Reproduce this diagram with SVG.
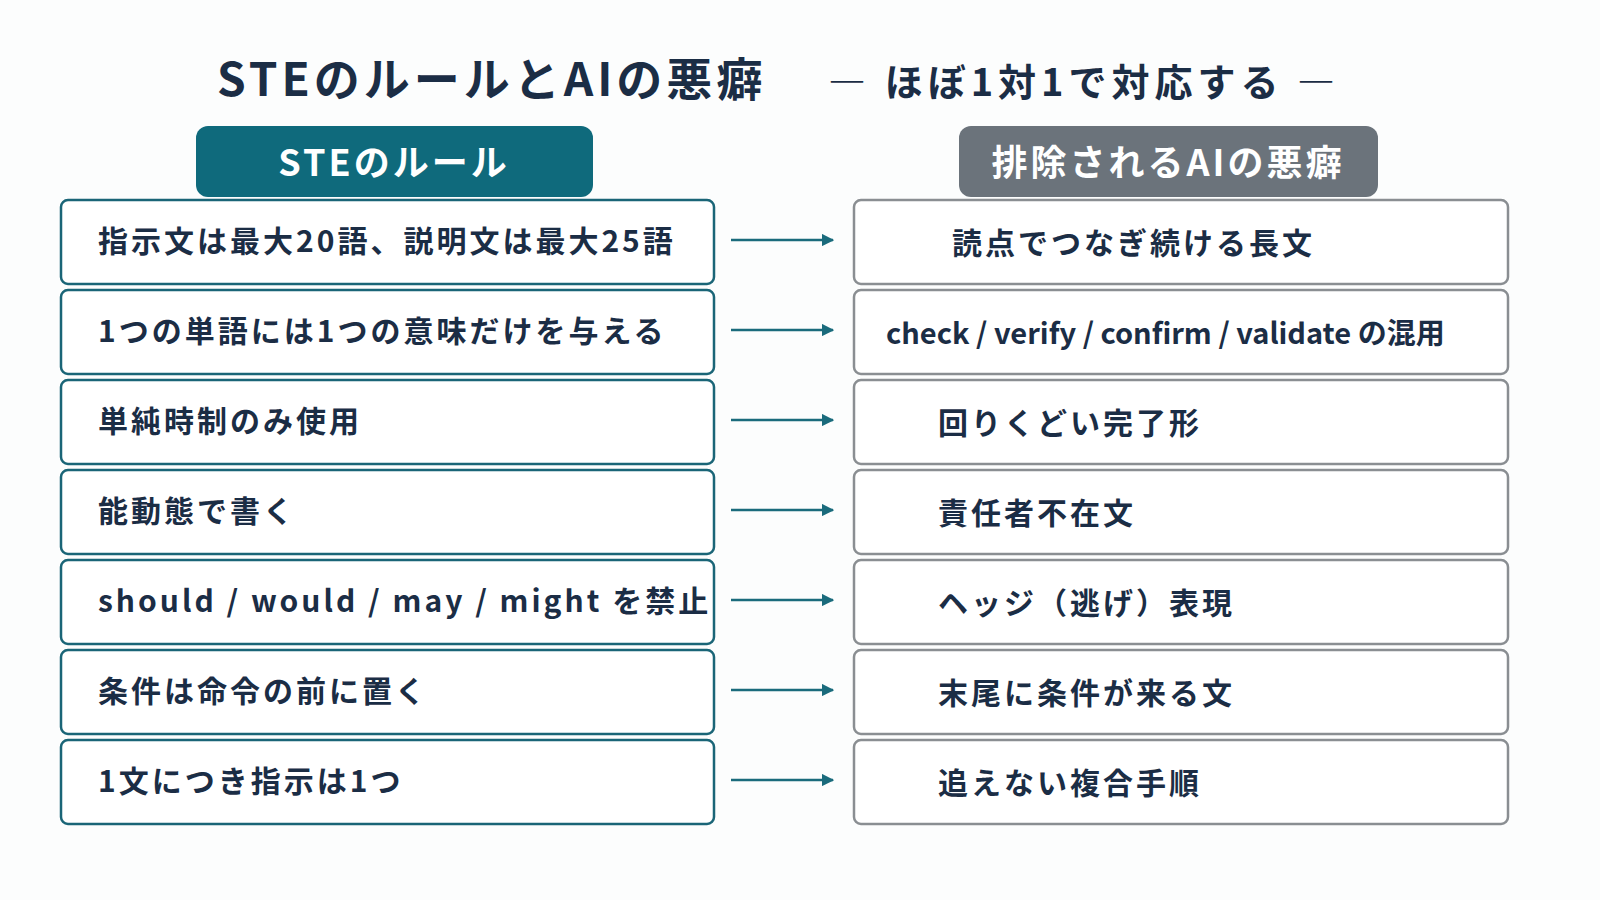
<svg xmlns="http://www.w3.org/2000/svg" width="1600" height="900" viewBox="0 0 1600 900">
<style>
text{font-family:"Noto Sans CJK JP","Noto Sans",sans-serif;font-weight:700;fill:#1b2d45}
.t{font-size:30px;letter-spacing:3px}
.l{fill:#fff;stroke:#1a6577;stroke-width:2.5}
.r{fill:#fff;stroke:#8a8e92;stroke-width:2.5}
.a{stroke:#1a6b7c;stroke-width:2.5;fill:none}
</style>
<defs><marker id="m" viewBox="0 0 10 10" refX="9" refY="5" markerWidth="5" markerHeight="5" orient="auto"><path d="M0,0L10,5L0,10z" fill="#1a6b7c"/></marker></defs>
<rect width="1600" height="900" fill="#fcfdfd"/>
<g id="title">
<text x="217" y="96" font-size="46" letter-spacing="4">STEのルールとAIの悪癖</text>
<text x="828" y="96" font-size="38" letter-spacing="5">― ほぼ1対1で対応する ―</text>
</g>
<g id="hdrL"><rect x="196" y="126" width="397" height="71" rx="12" fill="#0f6a7c"/><text x="394" y="176" font-size="36" text-anchor="middle" style="fill:#fff" letter-spacing="3">STEのルール</text></g>
<g id="hdrR"><rect x="959" y="126" width="419" height="71" rx="12" fill="#6b737b"/><text x="1168" y="176" font-size="36" text-anchor="middle" style="fill:#fff" letter-spacing="3">排除されるAIの悪癖</text></g>
<g id="L1"><rect class="l" x="61" y="200" width="653" height="84" rx="7"/><text class="t" x="98" y="252">指示文は最大20語、説明文は最大25語</text></g>
<g id="L2"><rect class="l" x="61" y="290" width="653" height="84" rx="7"/><text class="t" x="98" y="342">1つの単語には1つの意味だけを与える</text></g>
<g id="L3"><rect class="l" x="61" y="380" width="653" height="84" rx="7"/><text class="t" x="98" y="432">単純時制のみ使用</text></g>
<g id="L4"><rect class="l" x="61" y="470" width="653" height="84" rx="7"/><text class="t" x="98" y="522">能動態で書く</text></g>
<g id="L5"><rect class="l" x="61" y="560" width="653" height="84" rx="7"/><text class="t" x="98" y="612" letter-spacing="1">should / would / may / might を禁止</text></g>
<g id="L6"><rect class="l" x="61" y="650" width="653" height="84" rx="7"/><text class="t" x="98" y="702">条件は命令の前に置く</text></g>
<g id="L7"><rect class="l" x="61" y="740" width="653" height="84" rx="7"/><text class="t" x="98" y="792">1文につき指示は1つ</text></g>
<g id="R1"><rect class="r" x="854" y="200" width="654" height="84" rx="7"/><text class="t" x="952" y="254">読点でつなぎ続ける長文</text></g>
<g id="R2"><rect class="r" x="854" y="290" width="654" height="84" rx="7"/><text x="886" y="344" font-size="29">check / verify / confirm / validate の混用</text></g>
<g id="R3"><rect class="r" x="854" y="380" width="654" height="84" rx="7"/><text class="t" x="938" y="434">回りくどい完了形</text></g>
<g id="R4"><rect class="r" x="854" y="470" width="654" height="84" rx="7"/><text class="t" x="938" y="524">責任者不在文</text></g>
<g id="R5"><rect class="r" x="854" y="560" width="654" height="84" rx="7"/><text class="t" x="938" y="614">ヘッジ（逃げ）表現</text></g>
<g id="R6"><rect class="r" x="854" y="650" width="654" height="84" rx="7"/><text class="t" x="938" y="704">末尾に条件が来る文</text></g>
<g id="R7"><rect class="r" x="854" y="740" width="654" height="84" rx="7"/><text class="t" x="938" y="794">追えない複合手順</text></g>
<g id="connectors">
<line class="a" x1="731" y1="240" x2="833" y2="240" marker-end="url(#m)"/>
<line class="a" x1="731" y1="330" x2="833" y2="330" marker-end="url(#m)"/>
<line class="a" x1="731" y1="420" x2="833" y2="420" marker-end="url(#m)"/>
<line class="a" x1="731" y1="510" x2="833" y2="510" marker-end="url(#m)"/>
<line class="a" x1="731" y1="600" x2="833" y2="600" marker-end="url(#m)"/>
<line class="a" x1="731" y1="690" x2="833" y2="690" marker-end="url(#m)"/>
<line class="a" x1="731" y1="780" x2="833" y2="780" marker-end="url(#m)"/>
</g>
</svg>
